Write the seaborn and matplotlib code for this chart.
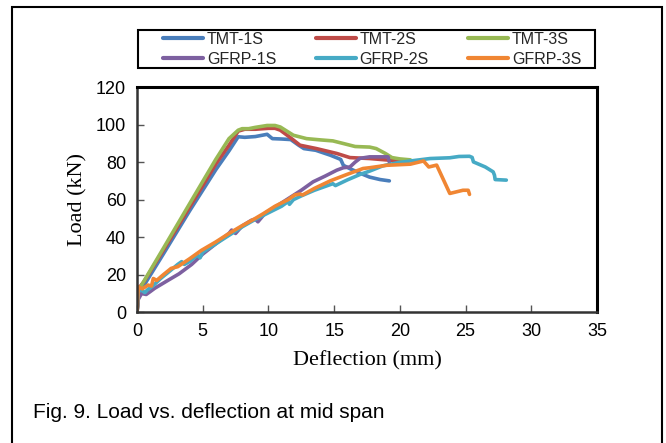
import matplotlib
matplotlib.use("Agg")
import matplotlib.pyplot as plt
import matplotlib.patches as mpatches
import seaborn as sns
import pandas as pd

# ---- data ----
series_names = ["TMT-1S", "TMT-2S", "TMT-3S", "GFRP-1S", "GFRP-2S", "GFRP-3S"]

tmt1_x = [0, 0.15, 0.5, 2.0, 4.0, 6.0, 7.0, 7.7, 8.2, 9.0, 9.9, 10.3, 11.0, 11.7, 12.3, 12.7,
          13.6, 14.7, 15.3, 15.5, 15.7, 16.2, 17.0, 17.7, 18.5, 19.2]
tmt1_y = [0, 11, 14, 31, 54, 76, 86, 93.5, 93.2, 93.6, 94.8, 92.5, 92.3, 92.0, 89.0, 87.2,
          86.3, 83.7, 82.0, 81.4, 78.3, 76.5, 74.0, 72.0, 70.7, 70.0]

tmt2_x = [0, 0.15, 0.5, 2.0, 4.0, 6.0, 7.0, 7.7, 8.2, 9.0, 10.0, 10.5, 10.9, 11.6, 12.4,
          13.65, 15.2, 16.2, 17.7, 19.25, 20.5]
tmt2_y = [0, 13, 16, 33, 56, 79, 89, 96.5, 97.5, 97.5, 98, 98, 97, 93.4, 89,
          87.2, 84.6, 82.4, 81.9, 81, 80.5]

tmt3_x = [0, 0.15, 0.35, 2.0, 4.16, 6.0, 7.0, 7.7, 8.0, 8.5, 9.0, 9.9, 10.5, 10.9, 11.9,
          12.9, 14.0, 14.9, 15.7, 16.6, 17.7, 18.2, 18.9, 19.4, 20.0, 20.8]
tmt3_y = [0, 11, 14.5, 34, 59.7, 81.5, 92.5, 97, 97.8, 97.8, 98.5, 99.5, 99.5, 98.7, 94.3,
          92.5, 91.8, 91.3, 89.9, 88.3, 88.0, 87.2, 84.6, 82.4, 81.7, 81.2]

gfrp1_x = [0, 0.1, 0.35, 0.7, 1.0, 1.35, 2.4, 3.2, 4.16, 5.0, 6.0, 7.0, 7.2, 7.5, 8.0, 8.7,
           9.0, 9.2, 9.74, 10.5, 11.5, 12.5, 13.4, 14.3, 15.2, 15.7, 16.2, 16.6, 16.97,
           17.7, 18.5, 19.1, 19.2]
gfrp1_y = [0, 7, 10, 9.5, 11, 12.8, 17.2, 20.5, 25.5, 31, 36.5, 42, 43.8, 42, 46, 49,
           49.6, 48.2, 52.7, 56, 60.5, 65, 69.5, 72.5, 75.7, 77, 77.4, 80, 82,
           82.8, 82.8, 82.8, 80]

gfrp2_x = [0, 0.1, 0.3, 0.6, 0.8, 1.2, 1.8, 2.5, 3.1, 3.4, 3.6, 4.0, 4.6, 4.8, 5.0, 6.0,
           7.0, 8.0, 9.0, 10.0, 11.0, 11.5, 11.6, 11.9, 12.5, 13.5, 14.5, 14.9, 15.1, 16.0,
           17.0, 17.7, 18.7, 19.7, 20.8, 22.3, 23.8, 24.5, 25.3, 25.5, 25.6, 26.5, 27.1,
           27.2, 27.25, 28.1]
gfrp2_y = [0, 11, 12, 10.5, 12, 14, 18, 22, 25.5, 27, 25.5, 27, 30.5, 29, 32, 36.5,
           41, 45.5, 49.5, 53, 56.5, 59, 57.5, 60, 62, 65, 67.5, 68.5, 67.5, 70.5,
           73.5, 75.2, 78, 79.5, 80.6, 81.9, 82.3, 83, 83.1, 82.5, 80.1, 77.4, 74.8,
           73, 70.7, 70.4]

gfrp3_x = [0, 0.1, 0.4, 0.85, 1.1, 1.24, 1.5, 2.0, 2.6, 3.1, 4.0, 4.9, 6.0, 7.0, 7.84,
           9.0, 9.6, 10.5, 11.5, 12.0, 12.4, 12.6, 13.5, 14.7, 16.0, 17.2, 17.7, 19.0,
           20.8, 21.8, 22.2, 22.8, 23.8, 24.8, 25.2, 25.3]
gfrp3_y = [0, 13.6, 12.5, 14.5, 14, 18, 17, 20, 23.4, 24.3, 28.5, 33, 37.5, 42, 45.5,
           50, 52.5, 56.5, 60, 62.5, 63, 62.5, 66, 70, 73.5, 76.6, 77, 78.3,
           78.9, 80.6, 77.4, 78.4, 63.3, 65, 65, 62.8]

xs = [tmt1_x, tmt2_x, tmt3_x, gfrp1_x, gfrp2_x, gfrp3_x]
ys = [tmt1_y, tmt2_y, tmt3_y, gfrp1_y, gfrp2_y, gfrp3_y]

x_ticks = [0, 5, 10, 15, 20, 25, 30, 35]
y_ticks = [0, 20, 40, 60, 80, 100, 120]

colors = ["#4A7EBB", "#BE4B48", "#98B954", "#7D60A0", "#46AAC5", "#F08633"]

rows = []
for name, xv, yv in zip(series_names, xs, ys):
    for i, (a, b) in enumerate(zip(xv, yv)):
        rows.append({"Series": name, "Deflection": a, "Load": b, "order": i})
df = pd.DataFrame(rows)

# ---- figure ----
sns.set_theme(style="white")
plt.rcParams["font.family"] = ["Liberation Sans", "DejaVu Sans"]

W, H = 666, 443
fig = plt.figure(figsize=(W / 100, H / 100), dpi=100)
ax = fig.add_axes([137 / W, 1 - 312.3 / H, (597 - 137) / W, (312.3 - 87) / H])

sns.lineplot(data=df, x="Deflection", y="Load", hue="Series", hue_order=series_names,
             palette=colors, sort=False, estimator=None, linewidth=2.6, ax=ax,
             legend=True)

ax.set_xlim(0, 35)
ax.set_ylim(0, 120)
ax.set_xticks(x_ticks)
ax.set_yticks(y_ticks)
ax.set_xticklabels([str(t) for t in x_ticks], fontsize=13)
ax.set_yticklabels([str(t) for t in y_ticks], fontsize=13)
ax.tick_params(axis="both", direction="in", length=5, width=1, color="#555555", pad=8,
               bottom=True, left=True, labelcolor="black")

for side in ["top", "right"]:
    ax.spines[side].set_color("black")
    ax.spines[side].set_linewidth(2.2)
for side in ["left", "bottom"]:
    ax.spines[side].set_color("#333333")
    ax.spines[side].set_linewidth(1.8)

ax.set_xlabel("Deflection (mm)", fontsize=16, family=["Liberation Serif", "DejaVu Serif"],
              labelpad=8, color="black")
ax.set_ylabel("Load (kN)", fontsize=16, family=["Liberation Serif", "DejaVu Serif"],
              labelpad=6, color="black")

# legend (row-wise order in 3 columns)
handles, labels = ax.get_legend_handles_labels()
ax.get_legend().remove()
for h in handles:
    h.set_linewidth(3.0)
order = [0, 3, 1, 4, 2, 5]
handles = [handles[i] for i in order]
labels = [labels[i] for i in order]
fs = 11.5
px_per_em = fs * 100 / 72
leg = fig.legend(handles, labels, ncol=3, loc="upper left",
                 bbox_to_anchor=(163 / W, 1 - 31.5 / H),
                 frameon=False, prop={"family": ["Liberation Sans", "DejaVu Sans"], "size": fs},
                 handlelength=40 / px_per_em, handletextpad=4 / px_per_em, borderpad=0,
                 labelspacing=0.33, columnspacing=2.45, borderaxespad=0)
fig.patches.append(mpatches.Rectangle((138 / W, 1 - 68 / H), (595 - 138) / W, 38 / H,
                                      transform=fig.transFigure, fill=False,
                                      edgecolor="black", linewidth=1.5))

# caption
fig.text(33 / W, 1 - 413 / H, "Fig. 9. Load vs. deflection at mid span",
         fontsize=15, family=["Liberation Sans Narrow", "Liberation Sans", "DejaVu Sans"],
         va="center", ha="left", color="black")

# outer border
fig.patches.append(mpatches.Rectangle((12 / W, -0.05), (662 - 12) / W, 1.05 - 7 / H,
                                      transform=fig.transFigure, fill=False,
                                      edgecolor="black", linewidth=1.5))

fig.savefig("out.png", dpi=100)
